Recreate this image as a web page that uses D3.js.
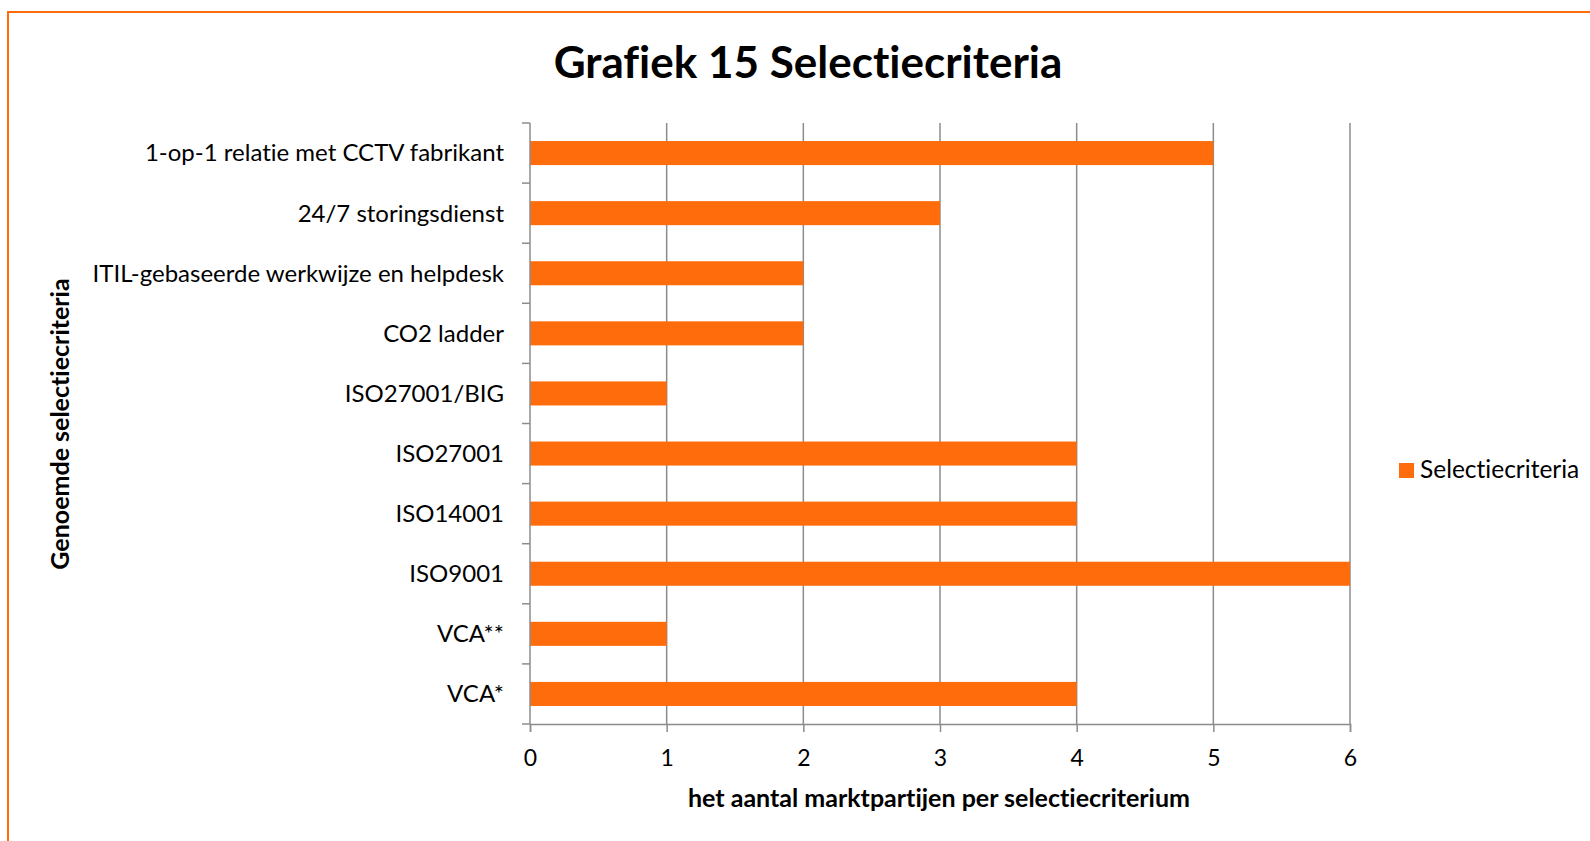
<!DOCTYPE html>
<html>
<head>
<meta charset="utf-8">
<script src="https://cdn.jsdelivr.net/npm/d3@7"></script>
<style>
  body { margin: 0; background: #fff; }
  text { font-family: Lato, "Open Sans", sans-serif; fill: #000; font-variant-ligatures: none; }
</style>
</head>
<body>
<div id="chart"></div>
<script>
// Data
const categories = [
  "1-op-1 relatie met CCTV fabrikant",
  "24/7 storingsdienst",
  "ITIL-gebaseerde werkwijze en helpdesk",
  "CO2 ladder",
  "ISO27001/BIG",
  "ISO27001",
  "ISO14001",
  "ISO9001",
  "VCA**",
  "VCA*"
];
const values = [5, 3, 2, 2, 1, 4, 4, 6, 1, 4];
const xTicks = [0, 1, 2, 3, 4, 5, 6];
const seriesName = "Selectiecriteria";

// Chart setup
const width = 1590;
const height = 841;
const margin = { top: 123, right: 240, bottom: 117, left: 530 };
const orange = '#ff6c0c';
const grey = '#8c8c8c';

const svg = d3.select('#chart')
  .append('svg')
  .attr('width', width)
  .attr('height', height);

// frame (only top and left edges visible)
svg.append('path')
  .attr('d', `M8,${height} V12 H${width}`)
  .attr('fill', 'none')
  .attr('stroke', orange)
  .attr('stroke-width', 2);

const x = d3.scaleLinear()
  .domain([0, 6])
  .range([margin.left, width - margin.right]);

const y = d3.scaleBand()
  .domain(categories)
  .range([margin.top, height - margin.bottom])
  .paddingInner(0.6)
  .paddingOuter(0.3);

const yEdge = d3.scaleLinear()
  .domain([0, categories.length])
  .range([margin.top, height - margin.bottom]);

// gridlines
svg.append('g')
  .selectAll('line')
  .data(xTicks.slice(1))
  .enter().append('line')
  .attr('x1', d => x(d))
  .attr('x2', d => x(d))
  .attr('y1', margin.top)
  .attr('y2', height - margin.bottom)
  .attr('stroke', grey)
  .attr('stroke-width', 1.5);

// bars
svg.append('g')
  .selectAll('rect')
  .data(values)
  .enter().append('rect')
  .attr('x', x(0))
  .attr('y', (d, i) => y(categories[i]))
  .attr('width', d => x(d) - x(0))
  .attr('height', y.bandwidth())
  .attr('fill', orange);

// x axis
const xAxis = svg.append('g')
  .attr('transform', `translate(0,${height - margin.bottom})`)
  .call(d3.axisBottom(x).tickValues(xTicks).tickSize(8).tickPadding(18).tickFormat(d3.format('d')));
xAxis.select('.domain').attr('stroke', grey).attr('stroke-width', 1.5);
xAxis.selectAll('.tick line').attr('stroke', grey).attr('stroke-width', 1.5);
xAxis.selectAll('.tick text')
  .style('font-size', '23px')
  .style('font-family', 'Lato, sans-serif')
  .attr('fill', '#000');

// y axis line and ticks at band edges
svg.append('line')
  .attr('x1', x(0)).attr('x2', x(0))
  .attr('y1', margin.top).attr('y2', height - margin.bottom)
  .attr('stroke', grey).attr('stroke-width', 1.5);

svg.append('g')
  .selectAll('line')
  .data(d3.range(categories.length + 1))
  .enter().append('line')
  .attr('x1', x(0) - 8).attr('x2', x(0))
  .attr('y1', d => yEdge(d)).attr('y2', d => yEdge(d))
  .attr('stroke', grey).attr('stroke-width', 1.5);

// category labels
svg.append('g')
  .selectAll('text')
  .data(categories)
  .enter().append('text')
  .attr('x', 504)
  .attr('y', d => y(d) + y.bandwidth() / 2)
  .attr('dy', '0.35em')
  .attr('text-anchor', 'end')
  .style('font-size', '24px')
  .text(d => d);

// title
svg.append('text')
  .attr('x', 808)
  .attr('y', 78)
  .attr('text-anchor', 'middle')
  .style('font-size', '44px')
  .style('font-weight', 'bold')
  .text('Grafiek 15 Selectiecriteria');

// axis titles
svg.append('text')
  .attr('x', 939)
  .attr('y', 807)
  .attr('text-anchor', 'middle')
  .style('font-size', '25px')
  .style('font-weight', 'bold')
  .text('het aantal marktpartijen per selectiecriterium');

svg.append('text')
  .attr('transform', 'translate(69,424) rotate(-90)')
  .attr('text-anchor', 'middle')
  .style('font-size', '25px')
  .style('font-weight', 'bold')
  .text('Genoemde selectiecriteria');

// legend
const legend = svg.append('g');
legend.append('rect')
  .attr('x', 1399).attr('y', 463)
  .attr('width', 15).attr('height', 15)
  .attr('fill', orange);
legend.append('text')
  .attr('x', 1420).attr('y', 478)
  .style('font-size', '24.5px')
  .text(seriesName);
</script>
</body>
</html>
